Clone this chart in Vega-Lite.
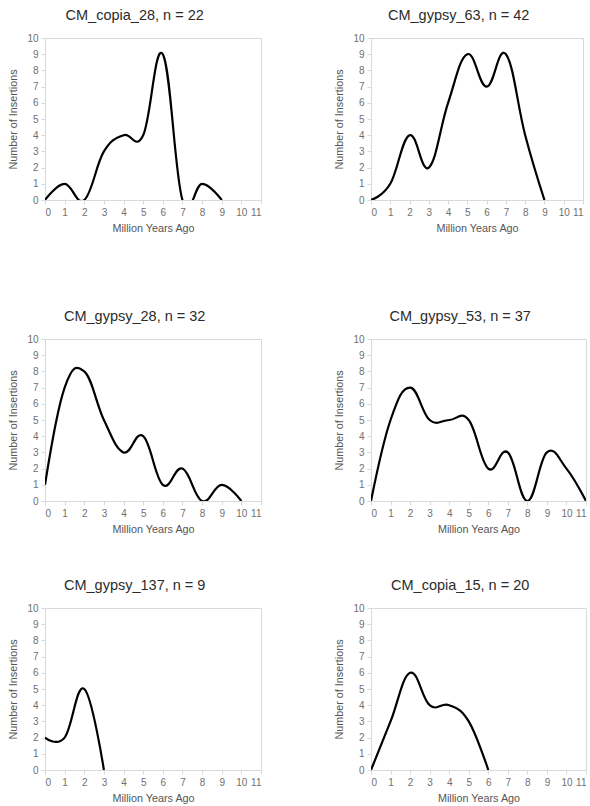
{
  "$schema": "https://vega.github.io/schema/vega-lite/v6.json",
  "padding": {"left": 7, "top": 7, "right": 0, "bottom": 0},
  "background": "white",
  "config": {
    "font": "Liberation Sans",
    "view": {"stroke": "#d9d9d9", "strokeWidth": 1},
    "title": {"fontSize": 14.5, "fontWeight": "normal", "color": "#2b2b2b", "frame": "bounds", "anchor": "middle", "offset": 10},
    "axis": {
      "domainColor": "#d9d9d9", "tickColor": "#d9d9d9", "tickSize": 4, "grid": false,
      "labelColor": "#707070", "labelFontSize": 10, "labelPadding": 3,
      "titleColor": "#555555", "titleFontSize": 10.8, "titleFontWeight": "normal"
    },
    "axisX": {"titlePadding": 5},
    "axisY": {"titlePadding": 8}
  },
  "datasets": {
    "d": [
      {"p": "CM_copia_28", "x": 0, "y": 0}, {"p": "CM_copia_28", "x": 1, "y": 1}, {"p": "CM_copia_28", "x": 2, "y": 0},
      {"p": "CM_copia_28", "x": 3, "y": 3}, {"p": "CM_copia_28", "x": 4, "y": 4}, {"p": "CM_copia_28", "x": 5, "y": 4},
      {"p": "CM_copia_28", "x": 6, "y": 9}, {"p": "CM_copia_28", "x": 7, "y": 0}, {"p": "CM_copia_28", "x": 8, "y": 1},
      {"p": "CM_copia_28", "x": 9, "y": 0},
      {"p": "CM_gypsy_63", "x": 0, "y": 0}, {"p": "CM_gypsy_63", "x": 1, "y": 1}, {"p": "CM_gypsy_63", "x": 2, "y": 4},
      {"p": "CM_gypsy_63", "x": 3, "y": 2}, {"p": "CM_gypsy_63", "x": 4, "y": 6}, {"p": "CM_gypsy_63", "x": 5, "y": 9},
      {"p": "CM_gypsy_63", "x": 6, "y": 7}, {"p": "CM_gypsy_63", "x": 7, "y": 9}, {"p": "CM_gypsy_63", "x": 8, "y": 4},
      {"p": "CM_gypsy_63", "x": 9, "y": 0},
      {"p": "CM_gypsy_28", "x": 0, "y": 1}, {"p": "CM_gypsy_28", "x": 1, "y": 7}, {"p": "CM_gypsy_28", "x": 2, "y": 8},
      {"p": "CM_gypsy_28", "x": 3, "y": 5}, {"p": "CM_gypsy_28", "x": 4, "y": 3}, {"p": "CM_gypsy_28", "x": 5, "y": 4},
      {"p": "CM_gypsy_28", "x": 6, "y": 1}, {"p": "CM_gypsy_28", "x": 7, "y": 2}, {"p": "CM_gypsy_28", "x": 8, "y": 0},
      {"p": "CM_gypsy_28", "x": 9, "y": 1}, {"p": "CM_gypsy_28", "x": 10, "y": 0},
      {"p": "CM_gypsy_53", "x": 0, "y": 0}, {"p": "CM_gypsy_53", "x": 1, "y": 5}, {"p": "CM_gypsy_53", "x": 2, "y": 7},
      {"p": "CM_gypsy_53", "x": 3, "y": 5}, {"p": "CM_gypsy_53", "x": 4, "y": 5}, {"p": "CM_gypsy_53", "x": 5, "y": 5},
      {"p": "CM_gypsy_53", "x": 6, "y": 2}, {"p": "CM_gypsy_53", "x": 7, "y": 3}, {"p": "CM_gypsy_53", "x": 8, "y": 0},
      {"p": "CM_gypsy_53", "x": 9, "y": 3}, {"p": "CM_gypsy_53", "x": 10, "y": 2}, {"p": "CM_gypsy_53", "x": 11, "y": 0},
      {"p": "CM_gypsy_137", "x": 0, "y": 2}, {"p": "CM_gypsy_137", "x": 1, "y": 2}, {"p": "CM_gypsy_137", "x": 2, "y": 5},
      {"p": "CM_gypsy_137", "x": 3, "y": 0},
      {"p": "CM_copia_15", "x": 0, "y": 0}, {"p": "CM_copia_15", "x": 1, "y": 3}, {"p": "CM_copia_15", "x": 2, "y": 6},
      {"p": "CM_copia_15", "x": 3, "y": 4}, {"p": "CM_copia_15", "x": 4, "y": 4}, {"p": "CM_copia_15", "x": 5, "y": 3},
      {"p": "CM_copia_15", "x": 6, "y": 0}
    ]
  },
  "spacing": 74,
  "vconcat": [
    {
      "spacing": 71,
      "hconcat": [
        {
          "title": "CM_copia_28, n = 22", "width": 216, "height": 162, "data": {"name": "d"},
          "transform": [{"filter": "datum.p == 'CM_copia_28'"}],
          "mark": {"type": "line", "interpolate": "cardinal", "tension": -0.2, "clip": true, "color": "black", "strokeWidth": 2.2},
          "encoding": {
            "x": {"field": "x", "type": "quantitative", "scale": {"domain": [0, 11], "nice": false}, "axis": {"values": [0,1,2,3,4,5,6,7,8,9,10,11], "title": "Million Years Ago"}},
            "y": {"field": "y", "type": "quantitative", "scale": {"domain": [0, 10], "nice": false}, "axis": {"values": [0,1,2,3,4,5,6,7,8,9,10], "title": "Number of Insertions"}}
          }
        },
        {
          "title": "CM_gypsy_63, n = 42", "width": 212, "height": 162, "data": {"name": "d"},
          "transform": [{"filter": "datum.p == 'CM_gypsy_63'"}],
          "mark": {"type": "line", "interpolate": "cardinal", "tension": -0.2, "clip": true, "color": "black", "strokeWidth": 2.2},
          "encoding": {
            "x": {"field": "x", "type": "quantitative", "scale": {"domain": [0, 11], "nice": false}, "axis": {"values": [0,1,2,3,4,5,6,7,8,9,10,11], "title": "Million Years Ago"}},
            "y": {"field": "y", "type": "quantitative", "scale": {"domain": [0, 10], "nice": false}, "axis": {"values": [0,1,2,3,4,5,6,7,8,9,10], "title": "Number of Insertions"}}
          }
        }
      ]
    },
    {
      "spacing": 42,
      "vconcat": [
        {
          "spacing": 71,
          "hconcat": [
            {
              "title": "CM_gypsy_28, n = 32", "width": 216, "height": 162, "data": {"name": "d"},
              "transform": [{"filter": "datum.p == 'CM_gypsy_28'"}],
              "mark": {"type": "line", "interpolate": "cardinal", "tension": -0.2, "clip": true, "color": "black", "strokeWidth": 2.2},
              "encoding": {
                "x": {"field": "x", "type": "quantitative", "scale": {"domain": [0, 11], "nice": false}, "axis": {"values": [0,1,2,3,4,5,6,7,8,9,10,11], "title": "Million Years Ago"}},
                "y": {"field": "y", "type": "quantitative", "scale": {"domain": [0, 10], "nice": false}, "axis": {"values": [0,1,2,3,4,5,6,7,8,9,10], "title": "Number of Insertions"}}
              }
            },
            {
              "title": "CM_gypsy_53, n = 37", "width": 215, "height": 162, "data": {"name": "d"},
              "transform": [{"filter": "datum.p == 'CM_gypsy_53'"}],
              "mark": {"type": "line", "interpolate": "cardinal", "tension": -0.2, "clip": true, "color": "black", "strokeWidth": 2.2},
              "encoding": {
                "x": {"field": "x", "type": "quantitative", "scale": {"domain": [0, 11], "nice": false}, "axis": {"values": [0,1,2,3,4,5,6,7,8,9,10,11], "title": "Million Years Ago"}},
                "y": {"field": "y", "type": "quantitative", "scale": {"domain": [0, 10], "nice": false}, "axis": {"values": [0,1,2,3,4,5,6,7,8,9,10], "title": "Number of Insertions"}}
              }
            }
          ]
        },
        {
          "spacing": 71,
          "hconcat": [
            {
              "title": "CM_gypsy_137, n = 9", "width": 216, "height": 162, "data": {"name": "d"},
              "transform": [{"filter": "datum.p == 'CM_gypsy_137'"}],
              "mark": {"type": "line", "interpolate": "cardinal", "tension": -0.2, "clip": true, "color": "black", "strokeWidth": 2.2},
              "encoding": {
                "x": {"field": "x", "type": "quantitative", "scale": {"domain": [0, 11], "nice": false}, "axis": {"values": [0,1,2,3,4,5,6,7,8,9,10,11], "title": "Million Years Ago"}},
                "y": {"field": "y", "type": "quantitative", "scale": {"domain": [0, 10], "nice": false}, "axis": {"values": [0,1,2,3,4,5,6,7,8,9,10], "title": "Number of Insertions"}}
              }
            },
            {
              "title": "CM_copia_15, n = 20", "width": 215, "height": 162, "data": {"name": "d"},
              "transform": [{"filter": "datum.p == 'CM_copia_15'"}],
              "mark": {"type": "line", "interpolate": "cardinal", "tension": -0.2, "clip": true, "color": "black", "strokeWidth": 2.2},
              "encoding": {
                "x": {"field": "x", "type": "quantitative", "scale": {"domain": [0, 11], "nice": false}, "axis": {"values": [0,1,2,3,4,5,6,7,8,9,10,11], "title": "Million Years Ago"}},
                "y": {"field": "y", "type": "quantitative", "scale": {"domain": [0, 10], "nice": false}, "axis": {"values": [0,1,2,3,4,5,6,7,8,9,10], "title": "Number of Insertions"}}
              }
            }
          ]
        }
      ]
    }
  ]
}
